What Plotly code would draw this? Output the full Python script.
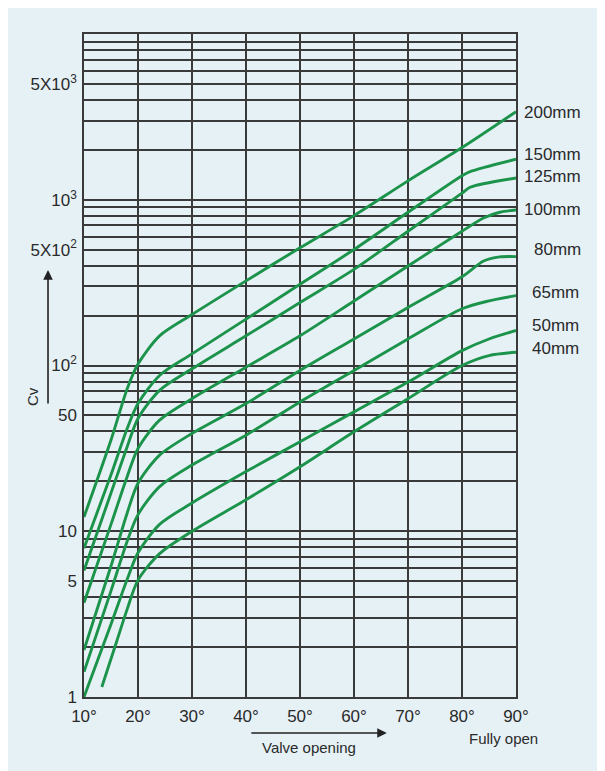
import math
import plotly.graph_objects as go

# ---- data (valve opening in degrees, Cv values) ----
sizes = ["200mm", "150mm", "125mm", "100mm", "80mm", "65mm", "50mm", "40mm"]

angle_200 = [10, 15, 18, 20, 24, 30, 40, 50, 60, 70, 80, 90]
cv_200 = [12.2, 35.5, 72.4, 102, 151, 203, 324, 513, 802, 1300, 2065, 3400]

angle_150 = [10, 15, 18, 20, 24, 30, 40, 50, 60, 70, 80, 81.5, 90]
cv_150 = [7.9, 21.9, 41.7, 58.9, 87.1, 117.5, 190.5, 309, 501, 841, 1396, 1479, 1758]

angle_125 = [10, 15, 18, 20, 24, 30, 40, 50, 60, 70, 80, 81.5, 90]
cv_125 = [5.8, 17.0, 32.4, 47.9, 70.8, 95.5, 151, 240, 380, 646, 1096, 1189, 1352]

angle_100 = [10, 15, 18, 20, 24, 30, 40, 50, 60, 70, 80, 84, 87, 90]
cv_100 = [3.7, 11.0, 21.4, 31.6, 46.8, 63.1, 97.7, 151, 245, 398, 646, 776, 841, 867]

angle_80 = [10, 15, 18, 20, 24, 30, 40, 50, 60, 70, 80, 84, 87, 90]
cv_80 = [1.92, 6.17, 12.9, 19.5, 28.8, 38.9, 58.9, 93.3, 144.5, 224, 343, 427, 452, 454]

angle_65 = [10, 15, 18, 20, 24, 30, 40, 50, 60, 70, 80, 85, 90]
cv_65 = [1.42, 4.37, 8.71, 12.6, 18.6, 25.1, 38.0, 60.3, 93.3, 144.5, 220, 245.5, 264]

angle_50 = [10, 15, 18, 20, 24, 30, 40, 50, 60, 70, 80, 85, 90]
cv_50 = [1.0, 2.75, 5.13, 7.41, 11.0, 14.8, 22.9, 34.7, 52.5, 79.4, 123, 144.5, 162.6]

angle_40 = [13.3, 16, 18, 20, 24, 30, 40, 50, 60, 70, 80, 85, 90]
cv_40 = [1.15, 2.14, 3.39, 5.07, 7.33, 10.0, 15.5, 24.5, 39.8, 63.1, 100, 114.8, 120.2]

x_ticks = [10, 20, 30, 40, 50, 60, 70, 80, 90]
x_tick_text = ["10°", "20°", "30°", "40°", "50°", "60°", "70°", "80°", "90°"]

y_labels = {1: "1", 5: "5", 10: "10", 50: "50", 100: "10<sup>2</sup>",
            500: "5X10<sup>2</sup>", 1000: "10<sup>3</sup>", 5000: "5X10<sup>3</sup>"}

# ---- styling ----
BG = "#e6f1f6"
GRID = "#3a3a3a"
GREEN = "#1c934b"
TXT = "#2a2a2a"
FONT = "Liberation Sans, Arial, sans-serif"

# label offsets (pixels) for the size labels at the right
label_xshift = [6, 6, 6, 6, 16, 14, 14, 14]
label_yshift = [-1, 5, 2, 1, 7, 3, 5, 4]

series = [(angle_200, cv_200), (angle_150, cv_150), (angle_125, cv_125),
          (angle_100, cv_100), (angle_80, cv_80), (angle_65, cv_65),
          (angle_50, cv_50), (angle_40, cv_40)]

fig = go.Figure()
for name, (ax_, cv_) in zip(sizes, series):
    fig.add_trace(go.Scatter(x=ax_, y=cv_, mode="lines", name=name,
                             line=dict(color=GREEN, width=2.9, shape="spline", smoothing=0.8),
                             showlegend=False, hoverinfo="skip"))

y_tickvals = []
for d in range(4):
    for k in range(1, 10):
        y_tickvals.append(k * 10 ** d)
y_tickvals.append(10000)
y_ticktext = [y_labels.get(v, "") for v in y_tickvals]

annotations = []
for i, (name, (ax_, cv_)) in enumerate(zip(sizes, series)):
    annotations.append(dict(x=ax_[-1], y=math.log10(cv_[-1]), xref="x", yref="y",
                            text=name, showarrow=False, xanchor="left", yanchor="middle",
                            xshift=label_xshift[i], yshift=label_yshift[i],
                            font=dict(size=17, color=TXT, family=FONT)))

# Cv axis title with arrow
annotations.append(dict(xref="paper", yref="paper", x=-0.118, y=0.4525, text="Cv",
                        showarrow=False, textangle=-90, xanchor="center", yanchor="middle",
                        font=dict(size=15, color=TXT, family=FONT)))
annotations.append(dict(xref="paper", yref="paper", x=-0.0833, y=0.644, text="",
                        showarrow=True, ax=0, ay=135, arrowhead=2, arrowsize=1.2,
                        arrowwidth=1.6, arrowcolor="#222"))
# x axis title with arrow
annotations.append(dict(xref="paper", yref="paper", x=0.521, y=-0.0769, text="Valve opening",
                        showarrow=False, xanchor="center", yanchor="middle",
                        font=dict(size=15, color=TXT, family=FONT)))
annotations.append(dict(xref="paper", yref="paper", x=0.701, y=-0.0543, text="",
                        showarrow=True, ax=-137, ay=0, arrowhead=2, arrowsize=1.2,
                        arrowwidth=1.6, arrowcolor="#222"))
annotations.append(dict(xref="paper", yref="paper", x=0.97, y=-0.0633, text="Fully open",
                        showarrow=False, xanchor="center", yanchor="middle",
                        font=dict(size=15, color=TXT, family=FONT)))

fig.update_layout(
    width=605, height=771,
    margin=dict(l=76, r=97, t=26, b=82),
    paper_bgcolor=BG, plot_bgcolor=BG,
    font=dict(family=FONT, color=TXT, size=16),
    annotations=annotations,
    xaxis=dict(range=[10, 90], tickvals=x_ticks, ticktext=x_tick_text,
               showgrid=True, gridcolor=GRID, gridwidth=1.5, zeroline=False,
               showline=True, mirror=True, linecolor=GRID, linewidth=1.5,
               ticks="", ticklabelstandoff=3, tickfont=dict(size=17, color=TXT, family=FONT)),
    yaxis=dict(type="log", range=[0, 4], tickvals=y_tickvals, ticktext=y_ticktext,
               showgrid=True, gridcolor=GRID, gridwidth=1.5, zeroline=False,
               showline=True, mirror=True, linecolor=GRID, linewidth=1.5,
               ticks="", ticklabelstandoff=2, tickfont=dict(size=17, color=TXT, family=FONT)),
)

fig.write_html("out.html")
